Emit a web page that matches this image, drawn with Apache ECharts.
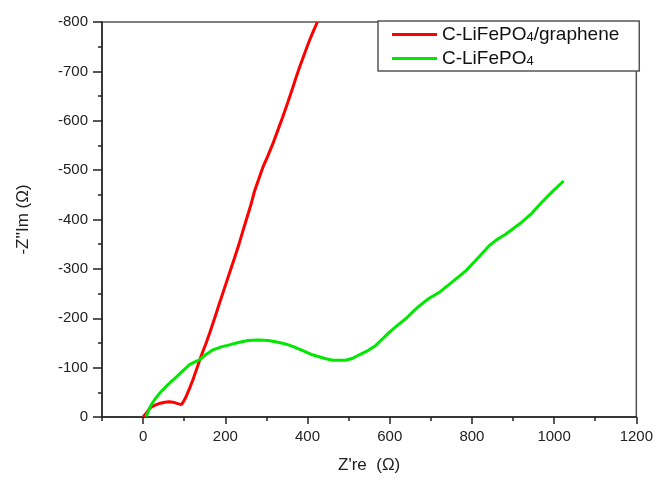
<!DOCTYPE html>
<html>
<head>
<meta charset="utf-8">
<script src="https://cdn.jsdelivr.net/npm/echarts@6/dist/echarts.min.js"></script>
<style>
  html, body { margin: 0; padding: 0; background: #fff; }
  #chart { width: 656px; height: 479px; }
</style>
</head>
<body>
<div id="chart"></div>
<script>
// Nyquist plots: [Z're, -Z''Im] pairs in ohms
const seriesNames = ['C-LiFePO4/graphene', 'C-LiFePO4'];
const xRange = [-100, 1200];
const xMajorTicks = [0, 200, 400, 600, 800, 1000, 1200];
const yRange = [-800, 0];

const graphenePts = [
  [0, 0], [4, -2], [10, -10], [16, -18], [24, -22], [32, -25], [42, -28],
  [53, -30], [63, -31], [73, -30], [84, -27], [93, -25], [99, -32],
  [105, -42], [113, -58], [121, -75], [131, -99], [141, -123], [152, -147],
  [162, -170], [174, -200], [186, -231], [198, -261], [210, -291],
  [222, -321], [234, -352], [245, -383], [255, -410], [263, -432],
  [271, -457], [281, -481], [291, -505], [303, -528], [315, -552],
  [327, -579], [339, -606], [352, -637], [364, -667], [372, -687],
  [380, -707], [392, -734], [404, -761], [414, -781], [424, -800]
];

const plainPts = [
  [8, -1], [14, -14], [20, -25], [28, -35], [38, -46], [48, -55], [60, -65],
  [73, -75], [92, -90], [113, -106], [125, -111], [137, -116], [152, -126],
  [170, -136], [190, -142], [210, -146], [232, -151], [255, -155],
  [280, -156], [305, -155], [331, -151], [350, -147], [364, -143],
  [390, -134], [412, -126], [440, -119], [461, -115], [480, -115],
  [493, -115], [510, -119], [526, -126], [548, -135], [566, -145],
  [582, -158], [598, -171], [618, -185], [639, -199], [660, -216],
  [672, -225], [695, -240], [720, -252], [750, -272], [785, -296],
  [810, -318], [842, -347], [862, -360], [882, -370], [922, -395],
  [945, -412], [970, -435], [995, -456], [1023, -478]
];

const FONT = 'Liberation Sans, Arial, sans-serif';
const INK = '#222';

const chart = echarts.init(document.getElementById('chart'), null, { renderer: 'canvas' });

chart.setOption({
  animation: false,
  grid: {
    left: 102, right: 18, top: 22, bottom: 60,
    show: true, borderColor: '#555', borderWidth: 1.5, backgroundColor: 'transparent'
  },
  legend: {
    orient: 'vertical',
    left: 378, top: 21,
    padding: [4, 20, 3, 14],
    itemGap: 5,
    itemWidth: 45, itemHeight: 3,
    icon: 'rect',
    borderColor: '#555', borderWidth: 1.5,
    backgroundColor: '#fff',
    data: seriesNames,
    formatter: name => name.replace('PO4', 'PO{sub|4}'),
    textStyle: {
      fontFamily: FONT, fontSize: 19, color: '#111', lineHeight: 18,
      rich: { sub: { fontFamily: FONT, fontSize: 13, color: '#111', verticalAlign: 'bottom', lineHeight: 14 } }
    }
  },
  xAxis: [
    {
      // short ticks every 100
      type: 'value',
      min: xRange[0], max: xRange[1], interval: 100,
      name: "Z're  (Ω)",
      nameLocation: 'middle', nameGap: 40,
      nameTextStyle: { fontFamily: FONT, fontSize: 17, color: INK },
      splitLine: { show: false },
      axisLine: { show: true, onZero: false, lineStyle: { color: INK, width: 1.5 } },
      axisTick: { show: true, inside: false, length: 4, lineStyle: { color: INK, width: 1.5 } },
      axisLabel: { show: false }
    },
    {
      // long labelled ticks every 200
      type: 'value',
      position: 'bottom',
      min: xRange[0], max: xRange[1],
      splitLine: { show: false },
      axisLine: { show: false, onZero: false },
      axisTick: { show: true, inside: false, length: 7, customValues: xMajorTicks,
        lineStyle: { color: INK, width: 1.5 } },
      axisLabel: {
        fontFamily: FONT, fontSize: 15, color: INK, margin: 12,
        customValues: xMajorTicks,
        formatter: v => String(v)
      }
    }
  ],
  yAxis: {
    type: 'value',
    inverse: true,
    min: yRange[0], max: yRange[1], interval: 100,
    name: "-Z''Im (Ω)",
    nameLocation: 'middle', nameGap: 70, nameRotate: 90,
    nameTextStyle: { fontFamily: FONT, fontSize: 17, color: INK },
    splitLine: { show: false },
    axisLine: { show: true, onZero: false, lineStyle: { color: INK, width: 1.5 } },
    axisTick: { show: true, inside: false, length: 9, lineStyle: { color: INK, width: 1.5 } },
    minorTick: { show: true, splitNumber: 2, length: 4, lineStyle: { color: INK, width: 1.5 } },
    axisLabel: {
      fontFamily: FONT, fontSize: 15, color: INK, margin: 14,
      formatter: v => (v === 0 ? '0' : String(v))
    }
  },
  series: [
    {
      name: seriesNames[0], type: 'line', data: graphenePts,
      xAxisIndex: 0, showSymbol: false, clip: true,
      itemStyle: { color: '#ff0000' },
      lineStyle: { color: '#ff0000', width: 3 }
    },
    {
      name: seriesNames[1], type: 'line', data: plainPts,
      xAxisIndex: 0, showSymbol: false, clip: true,
      itemStyle: { color: '#00e800' },
      lineStyle: { color: '#00e800', width: 3 }
    }
  ]
});
</script>
</body>
</html>
